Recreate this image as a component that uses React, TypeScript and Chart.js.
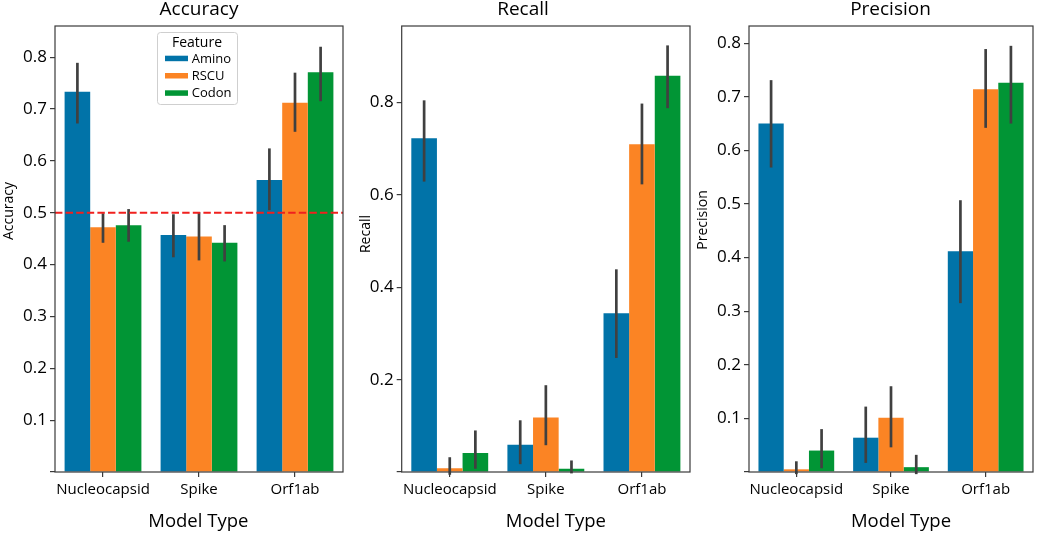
import { useEffect, useRef } from 'react';
import { Chart, BarController, BarElement, CategoryScale, LinearScale } from 'chart.js';

Chart.register(BarController, BarElement, CategoryScale, LinearScale);

const categories = ['Nucleocapsid', 'Spike', 'Orf1ab'];
const features = ['Amino', 'RSCU', 'Codon'];

// rows = feature, columns = category
const accuracyMean = [[0.733, 0.457, 0.563], [0.472, 0.454, 0.712], [0.476, 0.442, 0.771]];
const accuracyLow = [[0.672, 0.414, 0.505], [0.442, 0.408, 0.656], [0.444, 0.406, 0.715]];
const accuracyHigh = [[0.789, 0.497, 0.624], [0.499, 0.501, 0.77], [0.507, 0.476, 0.82]];

const recallMean = [[0.723, 0.059, 0.344], [0.008, 0.118, 0.71], [0.041, 0.007, 0.858]];
const recallLow = [[0.629, 0.017, 0.247], [-0.006, 0.058, 0.623], [0.007, -0.003, 0.788]];
const recallHigh = [[0.805, 0.112, 0.439], [0.032, 0.188, 0.798], [0.09, 0.025, 0.924]];

const precisionMean = [[0.65, 0.064, 0.412], [0.005, 0.101, 0.714], [0.04, 0.009, 0.726]];
const precisionLow = [[0.568, 0.017, 0.315], [-0.004, 0.046, 0.642], [0.007, -0.004, 0.65]];
const precisionHigh = [[0.731, 0.122, 0.507], [0.02, 0.16, 0.789], [0.08, 0.032, 0.795]];

const chanceLevel = 0.5;

const COLORS = ['#0173a8', '#fb8424', '#019535'];
const FONT = '"Open Sans", sans-serif';
const INK = '#000000';
const AXIS = '#3a3a3a';

Chart.defaults.font.family = FONT;
Chart.defaults.color = INK;

interface PanelProps {
  left: number;
  width: number;
  axisWidth: number;
  padRight: number;
  title: string;
  yLabel: string;
  mean: number[][];
  low: number[][];
  high: number[][];
  yMax: number;
  step: number;
  titleX: number;
  yLabelX: number;
  yLabelY: number;
  xLabelX: number;
  refLine?: number;
  legend?: boolean;
}

function MetricPanel(p: PanelProps) {
  const canvasRef = useRef<HTMLCanvasElement | null>(null);

  useEffect(() => {
    if (!canvasRef.current) return;

    const overlay = {
      id: 'overlay',
      afterDatasetsDraw(chart: Chart) {
        const { ctx, scales } = chart;
        const a = chart.chartArea;
        const y = scales.y;
        ctx.save();
        // error bars
        ctx.strokeStyle = '#404040';
        ctx.lineWidth = 2.7;
        chart.data.datasets.forEach((_, d) => {
          chart.getDatasetMeta(d).data.forEach((bar: any, i: number) => {
            ctx.beginPath();
            ctx.moveTo(bar.x, y.getPixelForValue(p.low[d][i]));
            ctx.lineTo(bar.x, y.getPixelForValue(p.high[d][i]));
            ctx.stroke();
          });
        });
        if (p.refLine !== undefined) {
          const ry = y.getPixelForValue(p.refLine);
          ctx.strokeStyle = '#f0201e';
          ctx.lineWidth = 2;
          ctx.setLineDash([7.4, 3.2]);
          ctx.beginPath();
          ctx.moveTo(a.left, ry);
          ctx.lineTo(a.right, ry);
          ctx.stroke();
        }
        ctx.restore();
      },
      afterDraw(chart: Chart) {
        const { ctx } = chart;
        const a = chart.chartArea;
        ctx.save();
        ctx.strokeStyle = AXIS;
        ctx.lineWidth = 1.2;
        ctx.strokeRect(a.left, a.top, a.right - a.left, a.bottom - a.top);

        ctx.fillStyle = INK;
        ctx.textAlign = 'center';
        ctx.textBaseline = 'alphabetic';
        ctx.font = `19px ${FONT}`;
        ctx.fillText(p.title, p.titleX, 15);
        ctx.font = `18.5px ${FONT}`;
        ctx.fillText('Model Type', p.xLabelX, 526.5);

        ctx.save();
        ctx.translate(p.yLabelX, p.yLabelY);
        ctx.rotate(-Math.PI / 2);
        ctx.font = `14px ${FONT}`;
        ctx.fillText(p.yLabel, 0, 0);
        ctx.restore();

        if (p.legend) {
          ctx.fillStyle = 'rgba(255,255,255,0.85)';
          ctx.strokeStyle = '#cfcfcf';
          ctx.lineWidth = 1;
          ctx.beginPath();
          ctx.roundRect(157.5, 32.5, 80, 72, 3);
          ctx.fill();
          ctx.stroke();
          ctx.fillStyle = INK;
          ctx.textAlign = 'center';
          ctx.font = `14px ${FONT}`;
          ctx.fillText('Feature', 197, 46.7);
          ctx.textAlign = 'left';
          ctx.font = `13px ${FONT}`;
          chart.data.datasets.forEach((ds, d) => {
            const base = 62.7 + d * 17.3;
            ctx.fillStyle = ds.backgroundColor as string;
            ctx.fillRect(165, base - 7, 23, 5.5);
            ctx.fillStyle = INK;
            ctx.fillText(ds.label as string, 191.7, base);
          });
        }
        ctx.restore();
      }
    };

    const chart = new Chart(canvasRef.current, {
      type: 'bar',
      data: {
        labels: categories,
        datasets: features.map((f, d) => ({
          label: f,
          data: p.mean[d],
          backgroundColor: COLORS[d],
          borderWidth: 0,
          categoryPercentage: 0.8,
          barPercentage: 1
        }))
      },
      options: {
        animation: false,
        responsive: true,
        maintainAspectRatio: false,
        events: [],
        layout: { padding: { top: 26, right: p.padRight, left: 0, bottom: 0 } },
        plugins: { legend: { display: false }, title: { display: false }, tooltip: { enabled: false } },
        scales: {
          x: {
            afterFit: (s: any) => {
              s.height = 61;
            },
            grid: { drawOnChartArea: false, drawTicks: true, tickLength: 5, color: AXIS, lineWidth: 1.2, offset: false },
            border: { display: false },
            ticks: { font: { size: 15 }, color: INK, padding: 4, maxRotation: 0, autoSkip: false }
          },
          y: {
            min: 0,
            max: p.yMax,
            afterFit: (s: any) => {
              s.width = p.axisWidth;
            },
            grid: { drawOnChartArea: false, drawTicks: true, tickLength: 5, color: AXIS, lineWidth: 1.2 },
            border: { display: false },
            ticks: {
              stepSize: p.step,
              includeBounds: false,
              font: { size: 17 },
              color: INK,
              padding: 3,
              callback: (v) => (Math.abs(Number(v)) < 1e-9 ? '' : Number(v).toFixed(1))
            }
          }
        }
      },
      plugins: [overlay]
    });

    return () => {
      chart.destroy();
    };
  }, []);

  return (
    <div style={{ position: 'absolute', left: p.left, top: 0, width: p.width, height: 533 }}>
      <canvas ref={canvasRef} aria-label={p.title} />
    </div>
  );
}

export default function App() {
  return (
    <div style={{ position: 'fixed', left: 0, top: 0, width: 1038, height: 533, background: '#fff' }}>
      <MetricPanel
        left={0}
        width={346}
        axisWidth={55}
        padRight={3}
        title="Accuracy"
        yLabel="Accuracy"
        mean={accuracyMean}
        low={accuracyLow}
        high={accuracyHigh}
        yMax={0.86}
        step={0.1}
        titleX={199}
        yLabelX={13.3}
        yLabelY={211}
        xLabelX={198.3}
        refLine={chanceLevel}
        legend
      />
      <MetricPanel
        left={346}
        width={346}
        axisWidth={55.7}
        padRight={2}
        title="Recall"
        yLabel="Recall"
        mean={recallMean}
        low={recallLow}
        high={recallHigh}
        yMax={0.966}
        step={0.2}
        titleX={177}
        yLabelX={24}
        yLabelY={234}
        xLabelX={209.8}
      />
      <MetricPanel
        left={692}
        width={346}
        axisWidth={57}
        padRight={5}
        title="Precision"
        yLabel="Precision"
        mean={precisionMean}
        low={precisionLow}
        high={precisionHigh}
        yMax={0.832}
        step={0.1}
        titleX={198.5}
        yLabelX={15.3}
        yLabelY={220}
        xLabelX={209}
      />
    </div>
  );
}
